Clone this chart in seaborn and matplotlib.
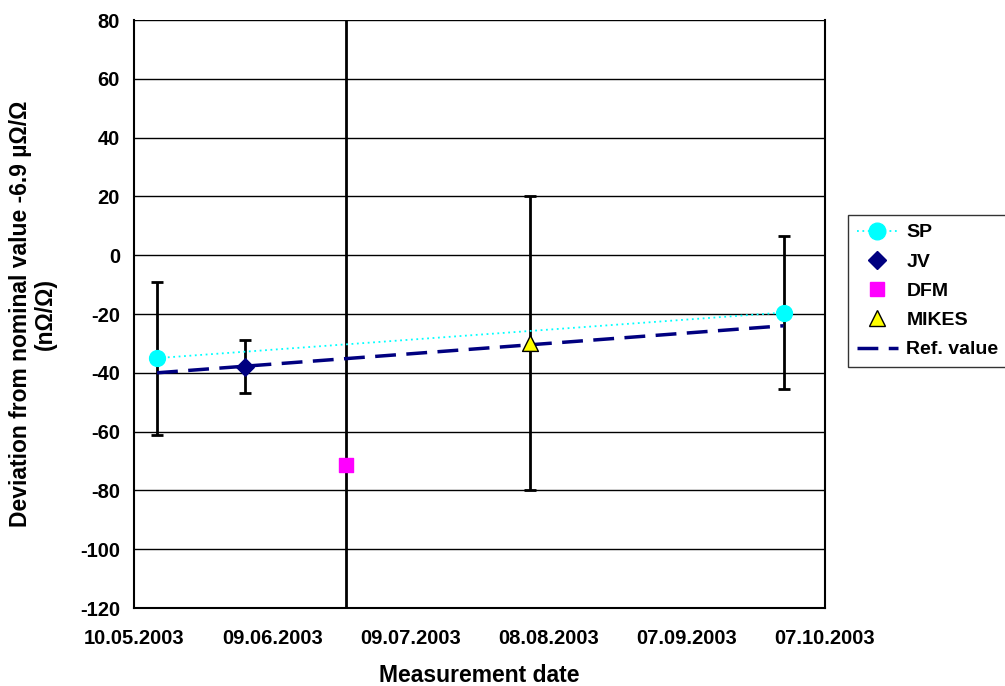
import matplotlib
matplotlib.use("Agg")
import matplotlib.pyplot as plt
import matplotlib.dates as mdates
from matplotlib.lines import Line2D
import seaborn as sns
import pandas as pd

# --- data ---
labs = ["SP", "JV", "DFM", "MIKES", "SP"]
dates = ["2003-05-15", "2003-06-03", "2003-06-25", "2003-08-04", "2003-09-28"]
devs = [-35, -38, -71.5, -30, -19.5]
uncs = [26, 9, 200, 50, 26]

ref_dates = ["2003-05-15", "2003-09-28"]
ref_vals = [-40, -24]

tick_dates = ["2003-05-10", "2003-06-09", "2003-07-09", "2003-08-08", "2003-09-07", "2003-10-07"]
y_ticks = list(range(-120, 81, 20))

df = pd.DataFrame({"lab": labs, "date": pd.to_datetime(dates), "dev": devs, "unc": uncs})
ref = pd.DataFrame({"date": pd.to_datetime(ref_dates), "val": ref_vals})

sns.set_style("white")
plt.rcParams["font.family"] = ["Liberation Sans", "DejaVu Sans"]
plt.rcParams["font.weight"] = "bold"
plt.rcParams["axes.unicode_minus"] = False
plt.rcParams["text.color"] = "black"
plt.rcParams["axes.labelcolor"] = "black"
plt.rcParams["xtick.color"] = "black"
plt.rcParams["ytick.color"] = "black"

fig = plt.figure(figsize=(10.05, 6.86), dpi=100)
ax = fig.add_axes([134 / 1005, 1 - 608 / 686, (825 - 134) / 1005, (608 - 20) / 686])

# error bars (black)
ax.errorbar(df["date"], df["dev"], yerr=df["unc"], fmt="none", ecolor="black",
            elinewidth=2, capsize=4, capthick=2, zorder=2)

# SP dotted connecting line
sp = df[df["lab"] == "SP"]
sns.lineplot(data=sp, x="date", y="dev", ax=ax, color="#00FFFF", lw=1.3,
             linestyle=(0, (1, 2)), zorder=3, legend=False)

# reference value dashed line
sns.lineplot(data=ref, x="date", y="val", ax=ax, color="#000080", lw=2.5,
             linestyle=(0, (6, 3)), zorder=3, legend=False)

styles = {
    "SP": dict(marker="o", color="#00FFFF", edgecolor="#00FFFF", s=130),
    "JV": dict(marker="D", color="#000080", edgecolor="#000080", s=80),
    "DFM": dict(marker="s", color="#FF00FF", edgecolor="#FF00FF", s=110),
    "MIKES": dict(marker="^", color="#FFFF00", edgecolor="black", s=130),
}
for lab, st in styles.items():
    sub = df[df["lab"] == lab]
    sns.scatterplot(data=sub, x="date", y="dev", ax=ax, marker=st["marker"],
                    color=st["color"], edgecolor=st["edgecolor"], s=st["s"],
                    linewidth=1, zorder=4, legend=False)

ax.set_ylim(-120, 80)
ax.set_xlim(pd.Timestamp(tick_dates[0]), pd.Timestamp(tick_dates[-1]))
ax.set_yticks(y_ticks)
ax.set_xticks(pd.to_datetime(tick_dates))
ax.xaxis.set_major_formatter(mdates.DateFormatter("%d.%m.%Y"))
ax.yaxis.grid(True, color="black", lw=1)
ax.xaxis.grid(False)
ax.set_axisbelow(True)
for s in ax.spines.values():
    s.set_color("black")
    s.set_linewidth(1.5)
ax.spines["top"].set_visible(False)
ax.tick_params(axis="both", direction="out", length=5, width=1, color="black",
               labelsize=14.5)
ax.tick_params(axis="x", pad=10)
ax.tick_params(axis="y", pad=5)
for t in ax.get_xticklabels() + ax.get_yticklabels():
    t.set_fontweight("bold")

ax.set_xlabel("Measurement date", fontsize=16.5, fontweight="bold", labelpad=12)
ax.set_ylabel("Deviation from nominal value -6.9 µΩ/Ω\n(nΩ/Ω)", fontsize=16.5,
              fontweight="bold", labelpad=17, linespacing=1.05)

handles = [
    Line2D([], [], color="#00FFFF", linestyle=(0, (1, 2)), lw=1.3, marker="o",
           markersize=12, markerfacecolor="#00FFFF", markeredgecolor="#00FFFF"),
    Line2D([], [], color="none", marker="D", markersize=9,
           markerfacecolor="#000080", markeredgecolor="#000080"),
    Line2D([], [], color="none", marker="s", markersize=10,
           markerfacecolor="#FF00FF", markeredgecolor="#FF00FF"),
    Line2D([], [], color="none", marker="^", markersize=11,
           markerfacecolor="#FFFF00", markeredgecolor="black"),
    Line2D([], [], color="#000080", linestyle=(0, (6, 3)), lw=2.5),
]
leg = fig.legend(handles, ["SP", "JV", "DFM", "MIKES", "Ref. value"],
                 loc="upper left", bbox_to_anchor=(848 / 1005, 1 - 215 / 686),
                 borderaxespad=0, frameon=True, fancybox=False, labelspacing=0.6,
                 handlelength=2.1, handletextpad=0.45, borderpad=0.45,
                 prop={"weight": "bold", "size": 14})
leg.get_frame().set_edgecolor("black")
leg.get_frame().set_linewidth(1)

fig.savefig("out.png", dpi=100)
